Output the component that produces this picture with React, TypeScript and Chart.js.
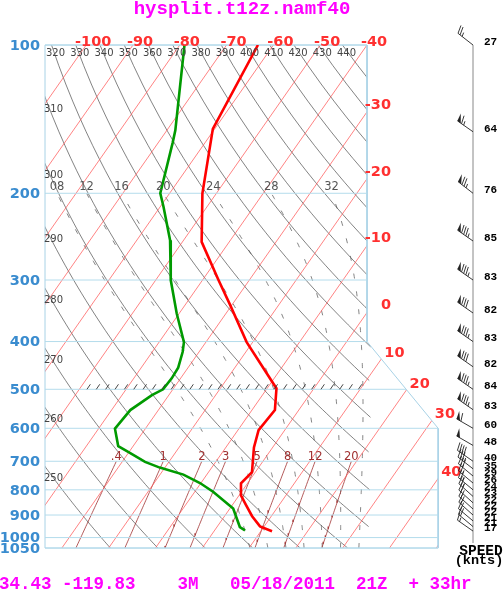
import React, { useEffect, useRef } from 'react';
import { Chart, registerables } from 'chart.js';
Chart.register(...registerables);

// ---- sounding data ----
const T_PRES = [100, 148, 200, 251, 300, 337, 401, 498, 551, 605, 656, 737, 776, 821, 860, 905, 949, 971];
const T_VALS = [-63.3, -60.4, -53.0, -45.9, -36.6, -30.4, -21.3, -8.0, -5.1, -5.6, -4.0, -0.7, -1.4, 0.4, 3.0, 5.9, 9.1, 12.4];
const TD_PRES = [100, 149, 158, 200, 213, 249, 300, 351, 401, 420, 452, 475, 500, 514, 551, 601, 652, 670, 702, 721, 745, 775, 808, 873, 952, 967];
const TD_VALS = [-79.0, -68.2, -66.9, -62.0, -59.3, -52.9, -46.8, -40.5, -34.7, -33.5, -32.1, -31.9, -32.1, -33.6, -36.0, -36.5, -33.2, -30.2, -25.1, -21.1, -15.0, -10.2, -6.0, 0.7, 4.9, 6.5];

const WIND_PRES = [100, 150, 200, 250, 300, 350, 400, 450, 500, 550, 600, 650, 700, 725, 750, 775, 800, 825, 850, 875, 900, 925, 950, 970];
const WIND_SPD = [27, 64, 76, 85, 83, 82, 83, 82, 84, 83, 60, 48, 40, 35, 29, 26, 24, 23, 22, 22, 22, 21, 21, 17];
const WIND_DIR = [308, 305, 308, 305, 305, 305, 305, 305, 305, 305, 300, 300, 305, 308, 310, 310, 310, 312, 312, 312, 312, 310, 310, 305];

// ---- diagram reference lines ----
const ISOBARS = [100, 200, 300, 400, 500, 600, 700, 800, 900, 1000, 1050];
const ISOTHERMS = [-100, -90, -80, -70, -60, -50, -40, -30, -20, -10, 0, 10, 20, 30, 40, 50];
const TOP_T_LABELS = [-100, -90, -80, -70, -60, -50, -40];
const SIDE_T_LABELS = [-30, -20, -10, 0, 10, 20, 30, 40];
const THETAS = [250, 260, 270, 280, 290, 300, 310, 320, 330, 340, 350, 360, 370, 380, 390, 400, 410, 420, 430, 440];
const THETA_TOP = [320, 330, 340, 350, 360, 370, 380, 390, 400, 410, 420, 430, 440];
const THETA_LEFT = [250, 260, 270, 280, 290, 300, 310];
const MIX_RATIOS = [0.4, 1, 2, 3, 5, 8, 12, 20];
const MIX_LABELS = ['.4', '1', '2', '3', '5', '8', '12', '20'];
const THETA_W = [8, 12, 16, 20, 24, 28, 32];
const THETA_W_LABELS = ['08', '12', '16', '20', '24', '28', '32'];
const HATCH_T = [-48, -46, -44, -42, -40, -38, -36, -34, -32, -30, -28, -26, -24, -22, -20, -18, -16, -14, -12, -10, -8, -6, -4, -2, 0, 2, 4, 6, 8, 10];

const TITLE = 'hysplit.t12z.namf40';
const FOOTER = '34.43 -119.83    3M   05/18/2011  21Z  + 33hr';

// ---- skew geometry ----
const SKEW = 31.98;
const XS_MIN = -68.8;
const XS_MAX = 0;
const FRAME_LOW = 15.2;
const sx = (T: number, p: number) => T + 40 - SKEW * Math.log(p / 100);
const frameXs = (p: number) =>
  p <= 400 ? 0 : p >= 600 ? FRAME_LOW : (FRAME_LOW * Math.log(p / 400)) / Math.log(1.5);

const KAPPA = 0.2857;
const esat = (Tc: number) => 6.112 * Math.exp((17.67 * Tc) / (Tc + 243.5));
function moistLapse(Tk: number, p: number) {
  const Rd = 287.04, Lv = 2.501e6, Cp = 1005.7, eps = 0.622;
  const es = esat(Tk - 273.15);
  const rs = (eps * es) / (p - es);
  return ((1 / p) * (Rd * Tk + Lv * rs)) / (Cp + (Lv * Lv * rs * eps) / (Rd * Tk * Tk));
}
function rk4(Tk: number, p: number, dp: number) {
  const k1 = moistLapse(Tk, p);
  const k2 = moistLapse(Tk + (k1 * dp) / 2, p + dp / 2);
  const k3 = moistLapse(Tk + (k2 * dp) / 2, p + dp / 2);
  const k4 = moistLapse(Tk + k3 * dp, p + dp);
  return Tk + (dp * (k1 + 2 * k2 + 2 * k3 + k4)) / 6;
}
function moistCurve(thw: number) {
  let T = thw + 273.15;
  let p = 1000;
  while (p < 1050) { T = rk4(T, p, 5); p += 5; }
  const pts: { p: number; T: number }[] = [{ p, T: T - 273.15 }];
  while (p > 200) { T = rk4(T, p, -5); p -= 5; pts.push({ p, T: T - 273.15 }); }
  return pts;
}
const mixT = (w: number, p: number) => {
  const e = (w * p) / (622 + w);
  const l = Math.log(e / 6.112);
  return (243.5 * l) / (17.67 - l);
};

const P_STEPS: number[] = [];
for (let p = 100; p <= 1050; p += 10) P_STEPS.push(p);
const P_LOW: number[] = [];
for (let p = 700; p <= 1050; p += 10) P_LOW.push(p);

function crossing(T: number) {
  let lo = Math.log(100), hi = Math.log(1050);
  for (let i = 0; i < 60; i++) {
    const m = (lo + hi) / 2;
    const p = Math.exp(m);
    if (sx(T, p) - frameXs(p) > 0) lo = m; else hi = m;
  }
  return Math.exp((lo + hi) / 2);
}

function drawBarb(ctx: CanvasRenderingContext2D, x: number, y: number, spd: number, dir: number) {
  const r = (dir * Math.PI) / 180;
  const ux = Math.sin(r), uy = -Math.cos(r);
  const px = -uy, py = ux;
  const L = 19, bl = 8, sp = 2.6;
  const tx = x + ux * L, ty = y + uy * L;
  ctx.beginPath(); ctx.moveTo(x, y); ctx.lineTo(tx, ty); ctx.stroke();
  let s = Math.round(spd / 5) * 5;
  let pos = 0;
  while (s >= 50) {
    const ax = tx - ux * pos, ay = ty - uy * pos;
    const bx = tx - ux * (pos + 4), by = ty - uy * (pos + 4);
    ctx.beginPath(); ctx.moveTo(ax, ay); ctx.lineTo(ax + px * bl + ux * 1.5, ay + py * bl + uy * 1.5); ctx.lineTo(bx, by); ctx.closePath(); ctx.fill();
    pos += 5; s -= 50;
  }
  while (s >= 10) {
    const ax = tx - ux * pos, ay = ty - uy * pos;
    ctx.beginPath(); ctx.moveTo(ax, ay); ctx.lineTo(ax + px * bl + ux * 2.5, ay + py * bl + uy * 2.5); ctx.stroke();
    pos += sp; s -= 10;
  }
  if (s >= 5) {
    if (pos === 0) pos = sp;
    const ax = tx - ux * pos, ay = ty - uy * pos;
    ctx.beginPath(); ctx.moveTo(ax, ay); ctx.lineTo(ax + px * bl * 0.5 + ux * 1.2, ay + py * bl * 0.5 + uy * 1.2); ctx.stroke();
  }
}

export default function App() {
  const ref = useRef<HTMLCanvasElement | null>(null);
  useEffect(() => {
    document.body.style.margin = '0';
    const canvas = ref.current!;
    const moist = THETA_W.map((t) => moistCurve(t));

    const line = (data: any[], color: string, width: number, extra: any = {}) => ({
      data, borderColor: color, borderWidth: width, showLine: true, pointRadius: 0, tension: 0,
      fill: false, ...extra,
    });

    const datasets: any[] = [];
    datasets.push(line(T_PRES.map((p, i) => ({ x: sx(T_VALS[i], p), y: p })), '#ff0000', 2.6));
    datasets.push(line(TD_PRES.map((p, i) => ({ x: sx(TD_VALS[i], p), y: p })), '#009a00', 2.6));
    // isobars
    ISOBARS.forEach((p) => datasets.push(line([{ x: XS_MIN, y: p }, { x: frameXs(p), y: p }], '#b4dcec', 1, { clip: false })));
    // frame
    datasets.push(line([
      { x: XS_MIN, y: 100 }, { x: 0, y: 100 }, { x: 0, y: 400 }, { x: FRAME_LOW, y: 600 },
      { x: FRAME_LOW, y: 1050 }, { x: XS_MIN, y: 1050 }, { x: XS_MIN, y: 100 },
    ], '#a8d2e6', 1, { clip: false }));
    // isotherms
    ISOTHERMS.forEach((T) => datasets.push(line([{ x: sx(T, 100), y: 100 }, { x: sx(T, 1050), y: 1050 }], 'rgba(255,90,90,0.75)', 1, { clip: false, polyClip: true })));
    // dry adiabats
    THETAS.forEach((th) => datasets.push(line(P_STEPS.map((p) => ({ x: sx(th * Math.pow(p / 1000, KAPPA) - 273.15, p), y: p })), 'rgba(70,70,70,0.75)', 0.9, { clip: false, polyClip: true })));
    // mixing ratio
    MIX_RATIOS.forEach((w) => datasets.push(line(P_LOW.map((p) => ({ x: sx(mixT(w, p), p), y: p })), 'rgba(160,50,50,0.8)', 1, { clip: false, polyClip: true })));
    // moist adiabats
    moist.forEach((c) => datasets.push(line(c.map((q) => ({ x: sx(q.T, q.p), y: q.p })), 'rgba(110,110,110,0.85)', 1, { clip: false, polyClip: true, borderDash: [5, 13] })));

    const skewPlugin = {
      id: 'skewt',
      beforeDatasetDraw(chart: any, args: any) {
        const ds = chart.data.datasets[args.index];
        if (!ds.polyClip) return;
        const ctx = chart.ctx, X = chart.scales.x, Y = chart.scales.y;
        ctx.save();
        ctx.beginPath();
        ctx.moveTo(X.getPixelForValue(XS_MIN), Y.getPixelForValue(100));
        ctx.lineTo(X.getPixelForValue(0), Y.getPixelForValue(100));
        ctx.lineTo(X.getPixelForValue(0), Y.getPixelForValue(400));
        ctx.lineTo(X.getPixelForValue(FRAME_LOW), Y.getPixelForValue(600));
        ctx.lineTo(X.getPixelForValue(FRAME_LOW), Y.getPixelForValue(1050));
        ctx.lineTo(X.getPixelForValue(XS_MIN), Y.getPixelForValue(1050));
        ctx.closePath();
        ctx.clip();
      },
      afterDatasetDraw(chart: any, args: any) {
        const ds = chart.data.datasets[args.index];
        if (ds.polyClip) chart.ctx.restore();
      },
      afterDraw(chart: any) {
        const ctx: CanvasRenderingContext2D = chart.ctx;
        const X = chart.scales.x, Y = chart.scales.y;
        const px = (T: number, p: number) => X.getPixelForValue(sx(T, p));
        const py = (p: number) => Y.getPixelForValue(p);
        const area = chart.chartArea;
        const text = (s: string, x: number, y: number, font: string, color: string, align: CanvasTextAlign = 'left', base: CanvasTextBaseline = 'alphabetic') => {
          ctx.font = font; ctx.fillStyle = color; ctx.textAlign = align; ctx.textBaseline = base; ctx.fillText(s, x, y);
        };
        ctx.save();
        // hatch along 500
        ctx.strokeStyle = '#333'; ctx.lineWidth = 0.9;
        HATCH_T.forEach((T) => {
          const x = px(T, 500), y = py(500);
          ctx.beginPath(); ctx.moveTo(x - 1.7, y); ctx.lineTo(x + 1.7, y - 5); ctx.stroke();
        });
        // pressure labels
        ISOBARS.forEach((p) => text(String(p), area.left - 5, py(p) + 1, 'bold 14.5px "DejaVu Sans"', '#3a8ccf', 'right', 'middle'));
        // top temperature labels
        TOP_T_LABELS.forEach((T) => text(String(T), px(T, 100) + 7, area.top + 0.5, 'bold 14.5px "DejaVu Sans"', '#ff3030', 'center', 'alphabetic'));
        // side temperature labels
        SIDE_T_LABELS.forEach((T) => {
          const p = crossing(T);
          const x = px(T, p), y = py(p);
          if (T <= 0) text(String(T), X.getPixelForValue(0) + 24, y - 7, 'bold 14.5px "DejaVu Sans"', '#ff3030', 'right', 'middle');
          else text(String(T), x + 3, y - 6, 'bold 14.5px "DejaVu Sans"', '#ff3030', 'left', 'middle');
        });
        // dry adiabat labels
        THETA_TOP.forEach((th) => {
          const T = th * Math.pow(0.1, KAPPA) - 273.15;
          text(String(th), px(T, 100) + 4, area.top + 8.5, '10px "DejaVu Sans"', '#444', 'center', 'middle');
        });
        THETA_LEFT.forEach((th) => {
          let lo = Math.log(100), hi = Math.log(1050);
          for (let i = 0; i < 50; i++) {
            const m = (lo + hi) / 2, p = Math.exp(m);
            const xs = sx(th * Math.pow(p / 1000, KAPPA) - 273.15, p);
            if (xs < XS_MIN) lo = m; else hi = m;
          }
          const p = Math.exp(lo);
          text(String(th), area.left - 1, py(p) + 12, '10px "DejaVu Sans"', '#444', 'left', 'middle');
        });
        // moist adiabat labels at 200
        moist.forEach((c, i) => {
          const q = c[c.length - 1];
          text(THETA_W_LABELS[i], px(q.T, q.p), py(200) - 1, '11.5px "DejaVu Sans"', '#555', 'center', 'bottom');
        });
        // mixing ratio labels
        MIX_RATIOS.forEach((w, i) => text(MIX_LABELS[i], px(mixT(w, 700), 700), py(700) - 4, '11.5px "DejaVu Sans"', '#a03030', 'center', 'middle'));
        // wind column
        const bx = area.right + 106;
        ctx.strokeStyle = '#888'; ctx.lineWidth = 1;
        ctx.beginPath(); ctx.moveTo(bx, py(100)); ctx.lineTo(bx, area.bottom - 5); ctx.stroke();
        ctx.strokeStyle = '#222'; ctx.fillStyle = '#222'; ctx.lineWidth = 0.9;
        WIND_PRES.forEach((p, i) => drawBarb(ctx, bx, py(p), WIND_SPD[i], WIND_DIR[i]));
        WIND_PRES.forEach((p, i) => text(String(WIND_SPD[i]), bx + 11, py(p) - 3, 'bold 11px "Liberation Mono"', '#000', 'left', 'middle'));
        text('SPEED', bx + 8, area.bottom + 3, 'bold 14.5px "Liberation Mono"', '#000', 'center', 'middle');
        text('(knts)', bx + 6, area.bottom + 13, 'bold 13.5px "Liberation Mono"', '#000', 'center', 'middle');
        // title & footer
        text(TITLE, 242, 14, 'bold 19px "Liberation Mono"', '#ff00ff', 'center', 'alphabetic');
        text(FOOTER, -1, 589, 'bold 17.5px "Liberation Mono"', '#ff00ff', 'left', 'alphabetic');
        ctx.restore();
      },
    };

    const chart = new Chart(canvas, {
      type: 'scatter',
      data: { datasets },
      options: {
        responsive: false,
        animation: false,
        devicePixelRatio: 1,
        events: [],
        layout: { padding: { left: 45, right: 137, top: 45, bottom: 44 } },
        plugins: { legend: { display: false }, tooltip: { enabled: false } },
        scales: {
          x: { type: 'linear', min: XS_MIN, max: XS_MAX, display: false },
          y: { type: 'logarithmic', min: 100, max: 1050, reverse: true, display: false },
        },
      } as any,
      plugins: [skewPlugin],
    });
    return () => chart.destroy();
  }, []);
  return (
    <div style={{ width: 504, height: 592, background: '#fff' }}>
      <canvas ref={ref} width={504} height={592} style={{ display: 'block' }} />
    </div>
  );
}
